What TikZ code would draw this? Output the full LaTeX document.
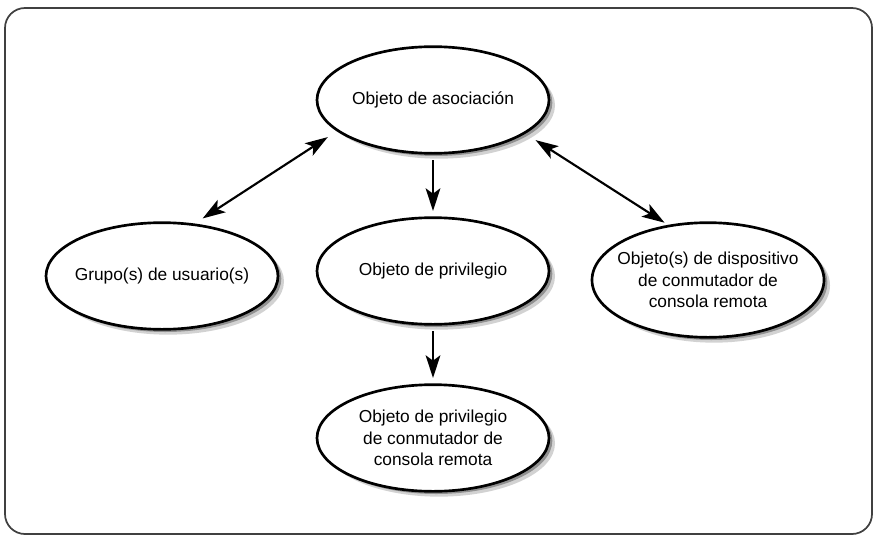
\documentclass[tikz,border=0pt]{standalone}
\usepackage{fontspec}
\setmainfont{Liberation Sans}
\usetikzlibrary{shapes.geometric,arrows.meta,shadows}

\begin{document}
\begin{tikzpicture}[x=0.75pt,y=-0.75pt,
  >={Stealth[length=17pt,width=11pt,inset=4pt]},
  elipse/.style={ellipse, draw=black, line width=2pt, fill=white,
    minimum width=174pt, minimum height=80pt, inner sep=-10pt, align=center,
    font=\fontsize{13}{16}\selectfont,
    drop shadow={shadow xshift=4.5pt, shadow yshift=-4pt, fill=black!35, opacity=0.5},
    drop shadow={shadow xshift=2.5pt, shadow yshift=-2pt, fill=black!60, opacity=0.6}},
  flecha/.style={line width=1.6pt}]

\useasboundingbox (0,0) rectangle (873,535);
\draw[black!75, line width=1.3pt, rounded corners=15pt] (5,8) rectangle (872,534);

\node[elipse] (asociacion) at (433,100) {Objeto de asociación};
\node[elipse] (grupo) at (162,276) {Grupo(s) de usuario(s)};
\node[elipse] (privilegio) at (433,271) {Objeto de privilegio};
\node[elipse, minimum height=86pt] (dispositivo) at (708,280)
  {Objeto(s) de dispositivo\\de conmutador de\\consola remota};
\node[elipse] (consola) at (433,438)
  {Objeto de privilegio\\de conmutador de\\consola remota};

%   flechas

\draw[flecha, <->, shorten <=7pt, shorten >=8pt] (grupo.58) -- (asociacion.198);
\draw[flecha, <->, shorten <=9pt, shorten >=3pt] (asociacion.-20) -- (dispositivo.126);
\draw[flecha, ->, shorten <=4pt, shorten >=4pt] (asociacion.south) -- (privilegio.north);
\draw[flecha, ->, shorten <=4pt, shorten >=4pt] (privilegio.south) -- (consola.north);

\end{tikzpicture}
\end{document}
